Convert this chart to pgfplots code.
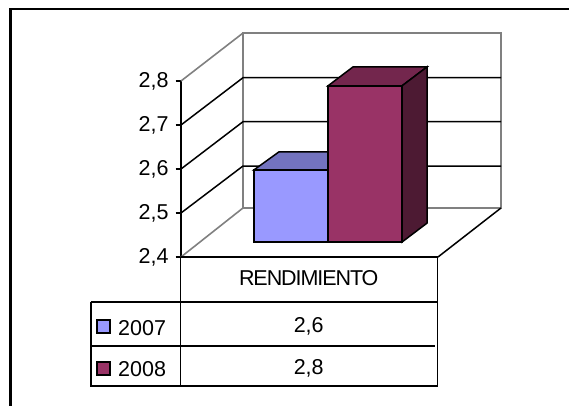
\documentclass[border=0pt]{standalone}
\usepackage{pgfplots}
\pgfplotsset{compat=1.18}
\usepackage{fontspec}
\setmainfont{Liberation Sans}
\definecolor{c07}{HTML}{9999FF}
\definecolor{c07t}{HTML}{7373BF}
\definecolor{c08}{HTML}{993366}
\definecolor{c08t}{HTML}{73264D}
\definecolor{c08s}{HTML}{4D1A33}
\definecolor{wallg}{HTML}{808080}
\newcommand{\tf}{\fontsize{21.5}{21.5}\selectfont}
\begin{document}
\begin{tikzpicture}[x=1pt,y=1pt]
\useasboundingbox (0,0) rectangle (569,406);
\begin{axis}[
  at={(181pt,149pt)}, anchor=origin,
  scale only axis, width=319pt, height=176pt,
  xmin=181, xmax=500, ymin=2.4, ymax=2.8,
  clip=false,
  axis x line=none,
  axis y line=left,
  axis line style={black,line width=1.6pt,-},
  y axis line style={black,line width=1.6pt,-},
  ytick={2.4,2.5,2.6,2.7,2.8},
  major tick length=5.5pt,
  tick style={black,line width=1.4pt},
  tick align=outside,
  yticklabel style={font=\tf,xshift=-3.5pt,yshift=-0.5pt,
    /pgf/number format/.cd,fixed,fixed zerofill,precision=1,use comma,assume math mode=true},
  every axis plot/.append style={no marks},
]
% outer frame
\addplot[black,line width=2.4pt] coordinates {(10.3,2.0614) (10.3,2.9636)};
\addplot[black,line width=1.9pt] coordinates {(9.1,2.9636) (569,2.9636)};
% walls (grey)
\addplot[wallg,line width=1.6pt] coordinates {(181,2.4) (243,2.5114) (243,2.909) (501,2.909) (501,2.5114) (243,2.5114)};
\addplot[wallg,line width=1.6pt] coordinates {(181,2.8) (243,2.909)};
% gridlines: side and back wall
\addplot[black,line width=1.5pt] coordinates {(181,2.5) (243,2.6068) (501,2.6068)};
\addplot[black,line width=1.5pt] coordinates {(181,2.6) (243,2.7075) (501,2.7075)};
\addplot[black,line width=1.5pt] coordinates {(181,2.7) (243,2.8075) (501,2.8075)};
% floor edge
\addplot[black,line width=1.5pt] coordinates {(438,2.4) (501,2.5114)};
% bars, 2007
\addplot[fill=c07t,draw=black,line width=1.5pt] coordinates {(254,2.598) (279,2.639) (354,2.639) (328,2.598)} --cycle;
\addplot[fill=c07,draw=black,line width=1.5pt] coordinates {(254,2.434) (254,2.598) (328,2.598) (328,2.434)} --cycle;
% bars, 2008
\addplot[fill=c08t,draw=black,line width=1.5pt] coordinates {(328,2.789) (353,2.832) (427,2.832) (402,2.789)} --cycle;
\addplot[fill=c08s,draw=black,line width=1.5pt] coordinates {(402,2.434) (402,2.789) (427,2.832) (427,2.477)} --cycle;
\addplot[fill=c08,draw=black,line width=1.5pt] coordinates {(328,2.434) (328,2.789) (402,2.789) (402,2.434)} --cycle;
% data table lines
\addplot[black,line width=2pt] coordinates {(181,2.4) (438,2.4)};
\addplot[black,line width=1.6pt] coordinates {(180.5,2.4) (180.5,2.1068)};
\addplot[black,line width=1.6pt] coordinates {(437.5,2.4) (437.5,2.1068)};
\addplot[black,line width=1.6pt] coordinates {(90.7,2.2984) (437.5,2.2984)};
\addplot[black,line width=1.6pt] coordinates {(90.7,2.1977) (435,2.1977)};
\addplot[black,line width=1.6pt] coordinates {(90.7,2.2984) (90.7,2.1068) (437.5,2.1068)};
% legend keys
\addplot[fill=c07,draw=black,line width=1.3pt] coordinates {(97,2.2273) (110,2.2273) (110,2.2568) (97,2.2568)} --cycle;
\addplot[fill=c08,draw=black,line width=1.3pt] coordinates {(97,2.1318) (110,2.1318) (110,2.1614) (97,2.1614)} --cycle;
% table text
\node[font=\tf,inner sep=0pt,anchor=base] at (axis cs:308.7,2.3348) {\addfontfeature{LetterSpace=-5}RENDIMIENTO};
\node[font=\tf,inner sep=0pt,anchor=base west] at (axis cs:118,2.2227) {2007};
\node[font=\tf,inner sep=0pt,anchor=base west] at (axis cs:118,2.1273) {2008};
\node[font=\tf,inner sep=0pt,anchor=base] at (axis cs:308.7,2.228) {2,6};
\node[font=\tf,inner sep=0pt,anchor=base] at (axis cs:308.7,2.134) {2,8};
\end{axis}
\end{tikzpicture}
\end{document}
